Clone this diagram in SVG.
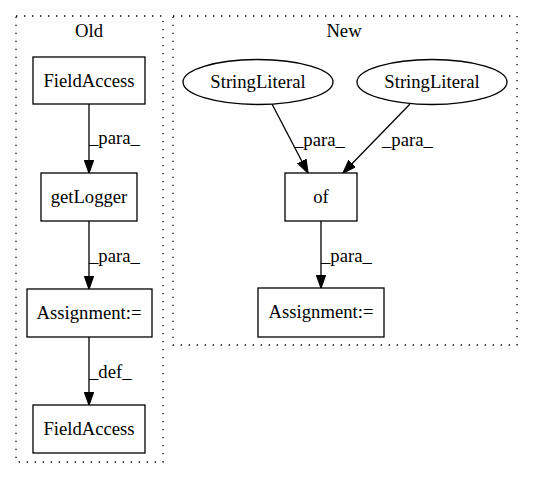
<svg xmlns="http://www.w3.org/2000/svg" width="533" height="480" viewBox="0 0 533 480">
<defs>
<style>
text{font-family:"Liberation Serif","Times New Roman",serif;font-size:18.67px;fill:#000}
.c{text-anchor:middle}
.cl{fill:none;stroke:#000;stroke-width:1.3;stroke-dasharray:1.33,6.67}
.n{fill:#fff;stroke:#000;stroke-width:1.3}
.e{fill:none;stroke:#000;stroke-width:1.3}
.ah{fill:#000;stroke:#000;stroke-width:1.3}
</style>
<marker id="arr" markerWidth="14" markerHeight="10" refX="13.3" refY="4.67" orient="auto" markerUnits="userSpaceOnUse" viewBox="0 0 14 9.33">
<polygon points="0,0 13.3,4.67 0,9.33" class="ah"/>
</marker>
</defs>
<rect width="533" height="480" fill="#fff"/>
<g id="cluster-old">
<rect class="cl" x="16" y="16" width="147" height="446"/>
<text class="c" x="89" y="37">Old</text>
</g>
<g id="cluster-new">
<rect class="cl" x="173" y="16" width="344" height="329"/>
<text class="c" x="344" y="37">New</text>
</g>
<g id="connectors">
<path class="e" d="M89,104 L89,173" marker-end="url(#arr)"/>
<text x="89" y="144">_para_</text>
<path class="e" d="M89,221 L89,289" marker-end="url(#arr)"/>
<text x="89" y="262">_para_</text>
<path class="e" d="M89,337 L89,405" marker-end="url(#arr)"/>
<text x="89" y="378">_def_</text>
<path class="e" d="M272,104 L308,173" marker-end="url(#arr)"/>
<text x="294" y="146">_para_</text>
<path class="e" d="M410,104 L343,173" marker-end="url(#arr)"/>
<text x="382" y="146">_para_</text>
<path class="e" d="M321,221 L321,288" marker-end="url(#arr)"/>
<text x="321" y="262">_para_</text>
</g>
<g id="fieldaccess1">
<rect class="n" x="33" y="57" width="112" height="47"/>
<text class="c" x="89" y="87">FieldAccess</text>
</g>
<g id="getlogger">
<rect class="n" x="41" y="173" width="96" height="48"/>
<text class="c" x="89" y="203">getLogger</text>
</g>
<g id="assignment-old">
<rect class="n" x="27" y="289" width="125" height="48"/>
<text class="c" x="89" y="319">Assignment:=</text>
</g>
<g id="fieldaccess2">
<rect class="n" x="33" y="405" width="112" height="48"/>
<text class="c" x="89" y="435">FieldAccess</text>
</g>
<g id="stringliteral1">
<ellipse class="n" cx="258" cy="82" rx="75" ry="22.5"/>
<text class="c" x="258" y="88">StringLiteral</text>
</g>
<g id="stringliteral2">
<ellipse class="n" cx="432" cy="82" rx="75" ry="22.5"/>
<text class="c" x="432" y="88">StringLiteral</text>
</g>
<g id="of">
<rect class="n" x="285" y="173" width="72" height="48"/>
<text class="c" x="321" y="203">of</text>
</g>
<g id="assignment-new">
<rect class="n" x="258" y="288" width="126" height="49"/>
<text class="c" x="321" y="318">Assignment:=</text>
</g>
</svg>
